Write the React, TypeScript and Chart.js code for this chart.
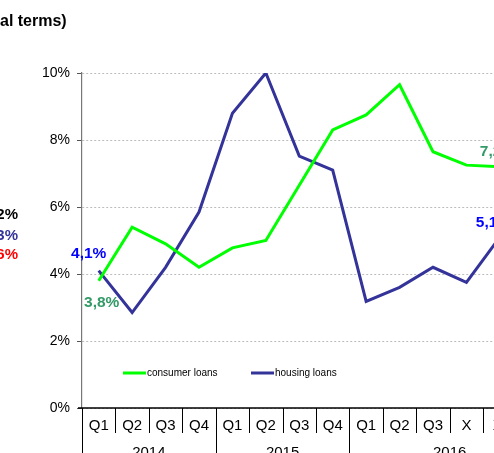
import React, { useEffect, useRef } from "react";
import { Chart, registerables } from "chart.js";

Chart.register(...registerables);

const categories = ["Q1", "Q2", "Q3", "Q4", "Q1", "Q2", "Q3", "Q4", "Q1", "Q2", "Q3", "X", "XI", "XII"];
const years = ["2014", "2015", "2016"];
const yearSpans = [4, 4, 6];
const consumerLoans = [3.8, 5.4, 4.9, 4.2, 4.78, 5.0, 6.65, 8.3, 8.75, 9.65, 7.65, 7.25, 7.2, null];
const housingLoans = [4.1, 2.85, 4.2, 5.85, 8.8, 10.0, 7.52, 7.1, 3.18, 3.6, 4.2, 3.75, 5.1, null];
const seriesNames = ["consumer loans", "housing loans"];
const lineColors = ["#00FF00", "#333399"];
const labelColors = ["#339966", "#0000FF"];
const yTicks = [0, 2, 4, 6, 8, 10];
const titleText = "al terms)";
const sideLabels = ["2%", "3%", "6%"];
const sideColors = ["#000000", "#333399", "#FF0000"];

const FONT = "'Liberation Sans', Arial, sans-serif";

const fmt = (v: number) => v.toFixed(1).replace(".", ",") + "%";

const decorPlugin = {
  id: "decor",
  afterDraw(chart: any) {
    const ctx = chart.ctx as CanvasRenderingContext2D;
    const x = chart.scales.x;
    const y = chart.scales.y;
    const area = chart.chartArea;
    const half = (x.getPixelForValue(1) - x.getPixelForValue(0)) / 2;
    ctx.save();

    // title (cut) and side labels
    ctx.fillStyle = "#000";
    ctx.font = `bold 16px ${FONT}`;
    ctx.textAlign = "left";
    ctx.textBaseline = "middle";
    ctx.fillText(titleText, 0, 21.5);
    ctx.font = `bold 15px ${FONT}`;
    ctx.textAlign = "right";
    const sideY = [215, 235.5, 255];
    sideLabels.forEach((t, i) => {
      ctx.fillStyle = sideColors[i];
      ctx.fillText(t, 18, sideY[i]);
    });

    // x axis line
    const y0 = y.getPixelForValue(0);
    ctx.strokeStyle = "#000";
    ctx.lineWidth = 1.5;
    ctx.beginPath();
    ctx.moveTo(area.left - 4, y0);
    ctx.lineTo(area.right, y0);
    ctx.stroke();

    // dividers
    ctx.lineWidth = 1;
    const yearStarts = new Set<number>();
    let acc = 0;
    yearStarts.add(0);
    yearSpans.forEach((s) => {
      acc += s;
      yearStarts.add(acc);
    });
    for (let i = 0; i <= categories.length; i++) {
      const px = Math.round(x.getPixelForValue(i) - half) + 0.5;
      const bottom = yearStarts.has(i) ? chart.height : y0 + 25;
      ctx.beginPath();
      ctx.moveTo(px, y0);
      ctx.lineTo(px, bottom);
      ctx.stroke();
    }

    // category labels
    ctx.fillStyle = "#000";
    ctx.font = `15px ${FONT}`;
    ctx.textAlign = "center";
    ctx.textBaseline = "middle";
    categories.forEach((c, i) => {
      ctx.fillText(c, x.getPixelForValue(i), y0 + 18);
    });
    // year labels
    let start = 0;
    years.forEach((yr, i) => {
      const end = start + yearSpans[i];
      const cx = (x.getPixelForValue(start) + x.getPixelForValue(end - 1)) / 2;
      ctx.fillText(yr, cx, y0 + 45);
      start = end;
    });

    // legend
    const legX = [123, 251];
    const legY = 373;
    ctx.font = `10px ${FONT}`;
    ctx.textAlign = "left";
    seriesNames.forEach((n, i) => {
      ctx.strokeStyle = lineColors[i];
      ctx.lineWidth = 3;
      ctx.beginPath();
      ctx.moveTo(legX[i], legY);
      ctx.lineTo(legX[i] + 23, legY);
      ctx.stroke();
      ctx.fillStyle = "#000";
      ctx.fillText(n, legX[i] + 24, legY);
    });

    // data labels for first and last values
    ctx.font = `bold 15.5px ${FONT}`;
    const series = [consumerLoans, housingLoans];
    const firstOff = [
      [3, 22],
      [-10, -17],
    ];
    const lastOff = [
      [-20, -15],
      [-24, -14],
    ];
    series.forEach((data, di) => {
      const meta = chart.getDatasetMeta(di);
      ctx.fillStyle = labelColors[di];
      const fp = meta.data[0];
      ctx.textAlign = "center";
      ctx.fillText(fmt(data[0] as number), fp.x + firstOff[di][0], fp.y + firstOff[di][1]);
      let li = data.length - 1;
      while (data[li] == null) li--;
      const lp = meta.data[li];
      ctx.textAlign = "left";
      ctx.fillText(fmt(data[li] as number), lp.x + lastOff[di][0], lp.y + lastOff[di][1]);
    });

    ctx.restore();
  },
};

export default function App() {
  const ref = useRef<HTMLCanvasElement>(null);
  useEffect(() => {
    if (!ref.current) return;
    const chart = new Chart(ref.current, {
      type: "line",
      data: {
        labels: categories,
        datasets: [
          {
            label: seriesNames[0],
            data: consumerLoans,
            borderColor: lineColors[0],
            backgroundColor: lineColors[0],
            borderWidth: 3,
            pointRadius: 0,
            tension: 0,
          },
          {
            label: seriesNames[1],
            data: housingLoans,
            borderColor: lineColors[1],
            backgroundColor: lineColors[1],
            borderWidth: 3,
            pointRadius: 0,
            tension: 0,
          },
        ],
      },
      options: {
        responsive: false,
        animation: false,
        devicePixelRatio: 1,
        layout: { padding: { left: 0, top: 73, right: 570 - 550, bottom: 480 - 408 } },
        plugins: { legend: { display: false }, tooltip: { enabled: false }, title: { display: false } },
        scales: {
          x: {
            type: "category",
            offset: true,
            display: false,
          },
          y: {
            min: 0,
            max: 10,
            afterFit: (s: any) => {
              s.width = 82;
            },
            afterBuildTicks: (s: any) => {
              s.ticks = yTicks.map((v) => ({ value: v }));
            },
            ticks: {
              callback: (v: any) => `${v}%`,
              color: "#000",
              font: { family: FONT, size: 14 },
              padding: 7,
            },
            grid: {
              color: "#BDBDBD",
              lineWidth: 1,
              tickColor: "#555",
              tickLength: 5,
              tickWidth: 1,
            },
            border: { display: true, color: "#777", width: 1.2, dash: [2, 2] },
          },
        },
      },
      plugins: [decorPlugin],
    });
    return () => chart.destroy();
  }, []);
  return (
    <div style={{ position: "fixed", left: 0, top: 0, width: 494, height: 453, overflow: "hidden", background: "#fff" }}>
      <canvas ref={ref} width={570} height={480} style={{ display: "block", width: 570, height: 480 }} />
    </div>
  );
}
